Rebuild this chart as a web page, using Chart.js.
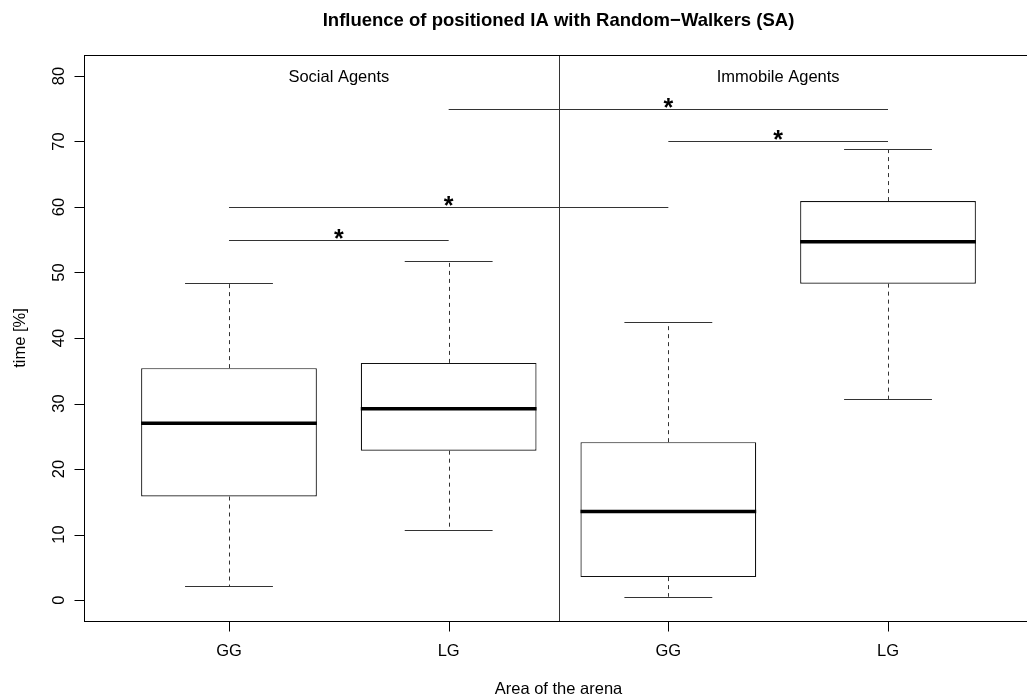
<!DOCTYPE html>
<html>
<head>
<meta charset="utf-8">
<title>Influence of positioned IA with Random-Walkers (SA)</title>
<script src="https://cdn.jsdelivr.net/npm/chart.js@4/dist/chart.umd.min.js"></script>
<style>
  html, body { margin: 0; padding: 0; background: #fff; overflow: hidden; }
  #wrap { width: 1027px; height: 700px; overflow: hidden; position: relative; }
  #boxChart { display: block; }
</style>
</head>
<body>
<div id="wrap">
  <canvas id="boxChart" width="1100" height="700" style="width:1100px;height:700px"></canvas>
</div>
<script>
// values
const mainTitle = "Influence of positioned IA with Random\u2212Walkers (SA)";
const xTitle = "Area of the arena";
const yTitle = "time [%]";
const groupLabels = ["Social Agents", "Immobile Agents"];
const groupLabelPos = [1.5, 3.5];
const areaLabels = ["GG", "LG", "GG", "LG"];
const positions = [1, 2, 3, 4];

const whiskerLow = [2.1, 10.7, 0.5, 30.7];
const q1 = [15.8, 22.8, 3.5, 48.3];
const median = [27.0, 29.2, 13.5, 54.7];
const q3 = [35.4, 36.2, 24.1, 60.9];
const whiskerHigh = [48.4, 51.7, 42.4, 68.9];

const yTicks = [0, 10, 20, 30, 40, 50, 60, 70, 80];

// significance brackets: from box, to box, height
const bracketFrom = [1, 1, 3, 2];
const bracketTo = [2, 3, 4, 4];
const bracketLevel = [55, 60, 70, 75];

const FONT = "'Liberation Sans', Arial, Helvetica, sans-serif";

function crisp(v) {
    return Math.round(v) + 0.5;
}

const rPlot = {
    id: 'rPlot',
    beforeDraw(chart) {
        const ctx = chart.ctx;
        ctx.save();
        ctx.fillStyle = '#fff';
        ctx.fillRect(0, 0, chart.width, chart.height);
        ctx.restore();
    },
    afterDatasetsDraw(chart) {
        const { ctx, chartArea: a, scales: { x, y } } = chart;
        ctx.save();

        // whiskers and caps
        positions.forEach((p, i) => {
            const cx = crisp(x.getPixelForValue(p));
            ctx.strokeStyle = '#333';
            ctx.lineWidth = 1;
            ctx.setLineDash([4, 4]);
            ctx.beginPath();
            ctx.moveTo(cx, y.getPixelForValue(q3[i]));
            ctx.lineTo(cx, y.getPixelForValue(whiskerHigh[i]));
            ctx.moveTo(cx, y.getPixelForValue(q1[i]));
            ctx.lineTo(cx, y.getPixelForValue(whiskerLow[i]));
            ctx.stroke();
            ctx.setLineDash([]);
            ctx.beginPath();
            [whiskerHigh[i], whiskerLow[i]].forEach(v => {
                const yy = crisp(y.getPixelForValue(v));
                ctx.moveTo(x.getPixelForValue(p - 0.2), yy);
                ctx.lineTo(x.getPixelForValue(p + 0.2), yy);
            });
            ctx.stroke();

            // median
            ctx.strokeStyle = '#000';
            ctx.lineWidth = 3.5;
            ctx.beginPath();
            const my = y.getPixelForValue(median[i]);
            ctx.moveTo(x.getPixelForValue(p - 0.4), my);
            ctx.lineTo(x.getPixelForValue(p + 0.4), my);
            ctx.stroke();
        });

        // divider between the two agent groups
        ctx.strokeStyle = '#333';
        ctx.lineWidth = 1;
        ctx.beginPath();
        const dx = crisp(x.getPixelForValue(2.5));
        ctx.moveTo(dx, a.top);
        ctx.lineTo(dx, a.bottom);
        ctx.stroke();

        // brackets with stars
        ctx.font = 'bold 25px ' + FONT;
        ctx.fillStyle = '#000';
        ctx.textAlign = 'center';
        ctx.textBaseline = 'alphabetic';
        const star = ctx.measureText('*');
        bracketLevel.forEach((lv, i) => {
            const ly = crisp(y.getPixelForValue(lv));
            ctx.beginPath();
            ctx.moveTo(x.getPixelForValue(bracketFrom[i]), ly);
            ctx.lineTo(x.getPixelForValue(bracketTo[i]), ly);
            ctx.stroke();
            const mx = x.getPixelForValue((bracketFrom[i] + bracketTo[i]) / 2);
            ctx.fillText('*', mx, ly - 2 - star.actualBoundingBoxDescent);
        });

        // group labels
        ctx.font = '16.5px ' + FONT;
        groupLabels.forEach((g, i) => {
            ctx.fillText(g, x.getPixelForValue(groupLabelPos[i]), y.getPixelForValue(80) + 6);
        });

        // frame
        ctx.strokeStyle = '#000';
        ctx.lineWidth = 1;
        ctx.strokeRect(crisp(a.left), crisp(a.top), Math.round(a.right - a.left), Math.round(a.bottom - a.top));

        // y axis
        const ax = crisp(a.left);
        ctx.beginPath();
        ctx.moveTo(ax, y.getPixelForValue(yTicks[0]));
        ctx.lineTo(ax, y.getPixelForValue(yTicks[yTicks.length - 1]));
        yTicks.forEach(t => {
            const ty = crisp(y.getPixelForValue(t));
            ctx.moveTo(ax, ty);
            ctx.lineTo(ax - 10, ty);
        });
        ctx.stroke();
        yTicks.forEach(t => {
            ctx.save();
            ctx.translate(ax - 20.5, y.getPixelForValue(t));
            ctx.rotate(-Math.PI / 2);
            ctx.fillText(String(t), 0, 0);
            ctx.restore();
        });

        // x axis
        const by = crisp(a.bottom);
        ctx.beginPath();
        ctx.moveTo(x.getPixelForValue(positions[0]), by);
        ctx.lineTo(x.getPixelForValue(positions[positions.length - 1]), by);
        positions.forEach(p => {
            const tx = crisp(x.getPixelForValue(p));
            ctx.moveTo(tx, by);
            ctx.lineTo(tx, by + 10);
        });
        ctx.stroke();
        positions.forEach((p, i) => {
            ctx.fillText(areaLabels[i], x.getPixelForValue(p), a.bottom + 35);
        });

        // axis titles
        const midX = (a.left + a.right) / 2;
        ctx.fillText(xTitle, midX, 694);
        ctx.save();
        ctx.translate(25, (a.top + a.bottom) / 2);
        ctx.rotate(-Math.PI / 2);
        ctx.fillText(yTitle, 0, 0);
        ctx.restore();

        // main title
        ctx.font = 'bold 18.5px ' + FONT;
        ctx.fillText(mainTitle, midX, 25.5);

        ctx.restore();
    }
};

const ctx = document.getElementById('boxChart').getContext('2d');
const chart = new Chart(ctx, {
    type: 'bar',
    data: {
        datasets: [{
            label: 'IQR',
            data: positions.map((p, i) => ({ x: p, y: [q1[i], q3[i]] })),
            backgroundColor: '#fff',
            borderColor: '#111',
            borderWidth: 1.2,
            borderSkipped: false,
            barPercentage: 0.8,
            categoryPercentage: 1.0
        }]
    },
    options: {
        responsive: false,
        animation: false,
        devicePixelRatio: 1,
        layout: { padding: { left: 84, top: 55, right: 67, bottom: 79 } },
        plugins: {
            legend: { display: false },
            tooltip: { enabled: false },
            title: { display: false }
        },
        scales: {
            x: {
                type: 'linear',
                display: false,
                offset: false,
                min: 0.34,
                max: 4.66,
                afterBuildTicks: s => { s.ticks = positions.map(v => ({ value: v })); }
            },
            y: {
                type: 'linear',
                display: false,
                min: -3.2,
                max: 83.2,
                afterBuildTicks: s => { s.ticks = yTicks.map(v => ({ value: v })); }
            }
        }
    },
    plugins: [rPlot]
});
</script>
</body>
</html>
